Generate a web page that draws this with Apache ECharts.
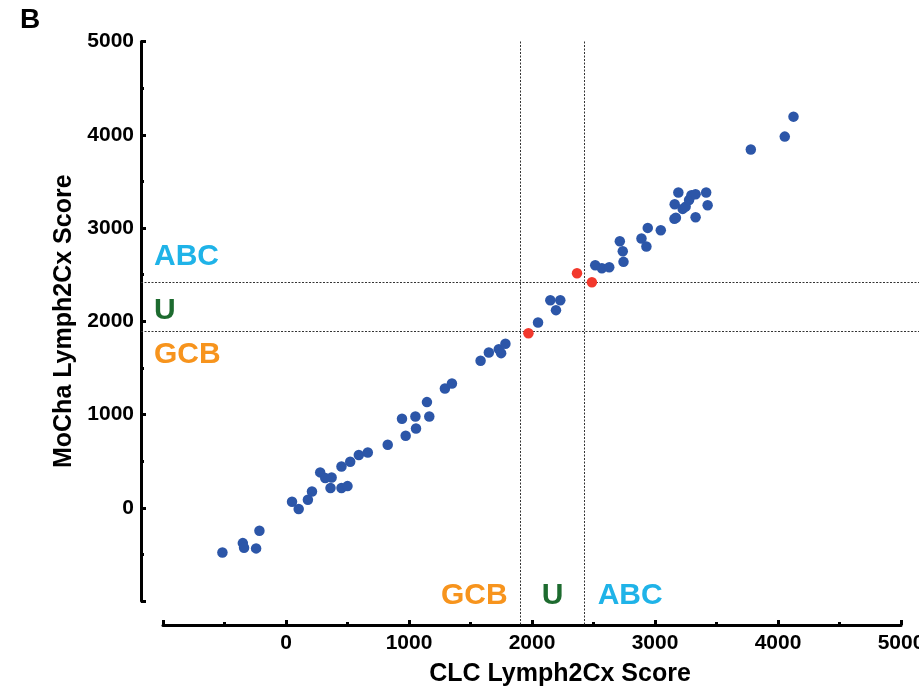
<!DOCTYPE html>
<html><head><meta charset="utf-8">
<script src="https://cdn.jsdelivr.net/npm/echarts@6/dist/echarts.min.js"></script>
<style>html,body{margin:0;padding:0;background:#fff}#c{width:919px;height:691px}</style>
</head><body><div id="c"></div>
<script>
// ---- data ----
const blueX = [-517,-351,-341,-243,-216,49,103,178,211,278,319,371,362,451,500,451,522,592,665,827,943,973,1052,1057,1146,1165,1292,1349,1582,1649,1730,1749,1784,2049,2195,2149,2230,2514,2568,2628,2714,2738,2744,2890,2930,2941,3047,3158,3170,3160,3190,3225,3249,3277,3296,3330,3330,3416,3428,3779,4055,4126];
const blueY = [-479,-379,-429,-436,-247,64,-14,86,175,379,318,325,211,211,232,443,493,565,593,675,954,772,979,850,1133,979,1279,1332,1576,1665,1701,1658,1758,1986,2119,2226,2226,2601,2569,2580,2858,2751,2637,2887,2801,3001,2976,3098,3110,3255,3380,3205,3229,3301,3351,3362,3116,3380,3244,3841,3980,4194];
const redX = [1971,2366,2487];
const redY = [1872,2515,2419];
const xThresholds = [1900, 2420];
const yThresholds = [1900, 2420];
const tickLabels = ['0','1000','2000','3000','4000','5000'];
const classNames = ['GCB','U','ABC'];
const classColors = ['#f7941d','#1d6b2f','#1fb3e8'];
const xTitle = 'CLC Lymph2Cx Score';
const yTitle = 'MoCha Lymph2Cx Score';
const panelLabel = 'B';

// ---- layout ----
const W = 919, H = 691;
const GRID = {left:163, right:18, top:41.5, bottom:90};
const X_OFF = 24, Y_OFF = 22;
const FONT = "'Liberation Sans', Arial, Helvetica, sans-serif";

const chart = echarts.init(document.getElementById('c'), null, {renderer:'canvas'});
const fmt = v => { const i = tickLabels.indexOf(String(v)); return i >= 0 ? tickLabels[i] : ''; };
const axisCommon = {
  type:'value', min:-1000, max:5000, interval:1000,
  splitLine:{show:false},
  axisLine:{show:true, onZero:false, lineStyle:{color:'#000', width:3}},
  axisTick:{show:true, inside:true, length:5, lineStyle:{color:'#000', width:3}},
  minorTick:{show:true, splitNumber:2, length:3, lineStyle:{color:'#000', width:3}},
  nameLocation:'middle'
};
chart.setOption({
  animation:false,
  backgroundColor:'#fff',
  grid:{left:GRID.left, right:GRID.right, top:GRID.top, bottom:GRID.bottom, containLabel:false, outerBoundsMode:'none'},
  xAxis:Object.assign({}, axisCommon, {
    offset:X_OFF,
    axisLabel:{margin:8, formatter:fmt, fontSize:21, fontWeight:'bold', color:'#000', fontFamily:FONT, showMaxLabel:true, hideOverlap:false},
    name:xTitle, nameGap:37,
    nameTextStyle:{fontSize:25, fontWeight:'bold', color:'#000', fontFamily:FONT, padding:[0,0,0,56]}
  }),
  yAxis:Object.assign({}, axisCommon, {
    offset:Y_OFF,
    axisLabel:{margin:7, formatter:fmt, fontSize:21, fontWeight:'bold', color:'#000', fontFamily:FONT, showMaxLabel:true, hideOverlap:false},
    name:yTitle, nameGap:52,
    nameTextStyle:{fontSize:25, fontWeight:'bold', color:'#000', fontFamily:FONT}
  }),
  series:[
    {type:'scatter', symbol:'circle', symbolSize:10.5, itemStyle:{color:'#2c56a8', opacity:1},
     data: blueX.map((x,i)=>[x, blueY[i]]), z:3},
    {type:'scatter', symbol:'circle', symbolSize:10.5, itemStyle:{color:'#f2382c', opacity:1},
     data: redX.map((x,i)=>[x, redY[i]]), z:4}
  ]
});

// reference lines & class labels positioned through the chart's own scales
const px = (x,y) => chart.convertToPixel({gridIndex:0}, [x,y]);
const yAxisLineX = GRID.left - Y_OFF;
const xAxisLineY = H - GRID.bottom + X_OFF;
const dash = {stroke:'#333', lineWidth:1, lineDash:[2,1.5]};
const g = [];
xThresholds.forEach(t => {
  const x = Math.round(px(t,0)[0]) + 0.5;
  g.push({type:'line', z:1, shape:{x1:x, y1:GRID.top, x2:x, y2:xAxisLineY}, style:dash, silent:true});
});
yThresholds.forEach(t => {
  const y = Math.round(px(0,t)[1]) + 0.5;
  g.push({type:'line', z:1, shape:{x1:yAxisLineX, y1:y, x2:W, y2:y}, style:dash, silent:true});
});
const lblStyle = (txt, col, align) => ({text:txt, fill:col, font:"bold 30px " + FONT, textAlign:align, textVerticalAlign:'middle'});
const vx0 = px(xThresholds[0],0)[0], vx1 = px(xThresholds[1],0)[0];
const hy0 = px(0,yThresholds[0])[1], hy1 = px(0,yThresholds[1])[1];
// bottom labels
const by = xAxisLineY - 29;
g.push({type:'text', x:vx0 - 12, y:by, style:lblStyle(classNames[0], classColors[0], 'right')});
g.push({type:'text', x:(vx0+vx1)/2 + 1, y:by, style:lblStyle(classNames[1], classColors[1], 'center')});
g.push({type:'text', x:vx1 + 14, y:by, style:lblStyle(classNames[2], classColors[2], 'left')});
// left labels
const lx = yAxisLineX + 13;
g.push({type:'text', x:lx, y:hy1 - 25, style:lblStyle(classNames[2], classColors[2], 'left')});
g.push({type:'text', x:lx, y:(hy0+hy1)/2 + 4, style:lblStyle(classNames[1], classColors[1], 'left')});
g.push({type:'text', x:lx, y:hy0 + 24, style:lblStyle(classNames[0], classColors[0], 'left')});
// panel letter
g.push({type:'text', x:20, y:20, style:{text:panelLabel, fill:'#000', font:"bold 28px " + FONT, textAlign:'left', textVerticalAlign:'middle'}});
chart.setOption({graphic:g});
</script>
</body></html>
